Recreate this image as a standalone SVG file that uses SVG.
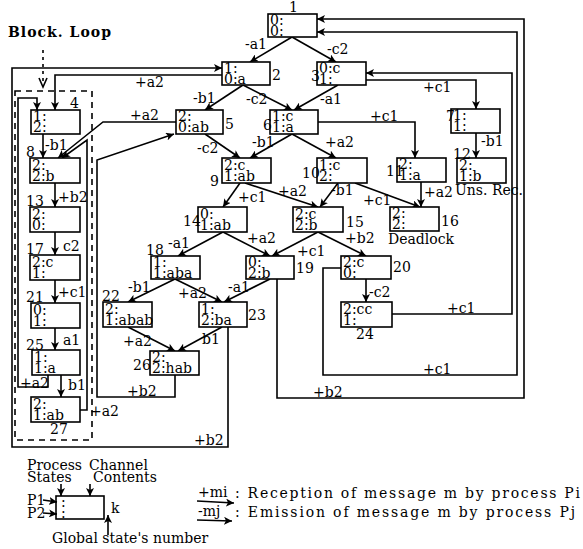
<svg xmlns="http://www.w3.org/2000/svg" width="583" height="549" viewBox="0 0 583 549">
<style>
.box{fill:#fff;stroke:#000;stroke-width:1.6}
.t{font-family:"DejaVu Serif","Liberation Serif",serif;font-size:14px;fill:#000}
.c{fill:none;stroke:#000;stroke-width:1.6}
.a{marker-end:url(#ah)}
</style>
<defs>
<marker id="ah" markerWidth="9" markerHeight="8" refX="8" refY="4" orient="auto" markerUnits="userSpaceOnUse">
<path d="M0,0 L8,4 L0,8 L2,4 Z" fill="#000"/>
</marker>
</defs>
<rect width="583" height="549" fill="#fff"/>

<g id="blockloop">
<text class="t" x="8" y="37" textLength="103" font-weight="bold">Block. Loop</text>
<line x1="43" y1="50" x2="43" y2="84" stroke="#000" stroke-width="1.6" stroke-dasharray="3,4"/>
<polyline points="39,78 43,87 47,78" fill="none" stroke="#000" stroke-width="1.6"/>
<rect x="15" y="91" width="77" height="349" fill="none" stroke="#000" stroke-width="1.6" stroke-dasharray="6,5"/>
</g>

<g id="connectors">
<line class="c a" x1="292" y1="37" x2="250" y2="62"/>
<line class="c a" x1="292" y1="37" x2="336" y2="62"/>
<line class="c a" x1="243" y1="85" x2="205" y2="110"/>
<line class="c a" x1="243" y1="85" x2="292" y2="110"/>
<line class="c a" x1="338" y1="85" x2="294" y2="110"/>
<path class="c a" d="M222,75 H55 V110"/>
<path class="c a" d="M228,327 V447 H12 V68 H222"/>
<line class="c a" x1="43" y1="134" x2="43" y2="158"/>
<path class="c a" d="M176,122 H103 L58,158"/>
<path class="c a" d="M80,410 H87 V140 L62,158"/>
<path class="c a" d="M175,375 V397 H97 V160 L174,134"/>
<line class="c a" x1="205" y1="134" x2="240" y2="158"/>
<line class="c a" x1="292" y1="134" x2="250" y2="158"/>
<line class="c a" x1="292" y1="134" x2="336" y2="158"/>
<path class="c a" d="M318,122 H415 V158"/>
<path class="c a" d="M366,80 H476 V109"/>
<path class="c a" d="M392,314 H512 V73 H366"/>
<path class="c a" d="M341,268 H323 V375 H517 V32 H317"/>
<path class="c a" d="M277,279 V398 H524 V19 H317"/>
<line class="c a" x1="476" y1="133" x2="476" y2="158"/>
<line class="c a" x1="240" y1="183" x2="223" y2="207"/>
<line class="c a" x1="245" y1="183" x2="318" y2="207"/>
<line class="c a" x1="338" y1="183" x2="320" y2="207"/>
<line class="c a" x1="355" y1="183" x2="420" y2="207"/>
<line class="c a" x1="421" y1="182" x2="421" y2="207"/>
<line class="c a" x1="223" y1="232" x2="178" y2="256"/>
<line class="c a" x1="223" y1="232" x2="270" y2="256"/>
<line class="c a" x1="318" y1="232" x2="272" y2="256"/>
<line class="c a" x1="318" y1="232" x2="366" y2="256"/>
<line class="c a" x1="175" y1="279" x2="128" y2="302"/>
<line class="c a" x1="175" y1="279" x2="222" y2="302"/>
<line class="c a" x1="270" y1="279" x2="224" y2="302"/>
<line class="c a" x1="366" y1="279" x2="366" y2="302"/>
<line class="c a" x1="128" y1="327" x2="175" y2="351"/>
<line class="c a" x1="222" y1="327" x2="178" y2="351"/>
<line class="c a" x1="55" y1="183" x2="55" y2="207"/>
<line class="c a" x1="55" y1="232" x2="55" y2="255"/>
<line class="c a" x1="55" y1="280" x2="55" y2="303"/>
<line class="c a" x1="55" y1="328" x2="55" y2="350"/>
<line class="c a" x1="61" y1="375" x2="61" y2="397"/>
<path class="c a" d="M48,375 V387 H18 V98 H37 V110"/>
<text class="t" x="245" y="49">-a1</text>
<text class="t" x="327" y="54">-c2</text>
<text class="t" x="193" y="103">-b1</text>
<text class="t" x="246" y="104">-c2</text>
<text class="t" x="320" y="104">-a1</text>
<text class="t" x="135" y="87">+a2</text>
<text class="t" x="194" y="445">+b2</text>
<text class="t" x="45" y="150">-b1</text>
<text class="t" x="130" y="120">+a2</text>
<text class="t" x="90" y="416">+a2</text>
<text class="t" x="127" y="396">+b2</text>
<text class="t" x="197" y="153">-c2</text>
<text class="t" x="252" y="147">-b1</text>
<text class="t" x="325" y="147">+a2</text>
<text class="t" x="370" y="121">+c1</text>
<text class="t" x="423" y="92">+c1</text>
<text class="t" x="447" y="313">+c1</text>
<text class="t" x="423" y="374">+c1</text>
<text class="t" x="313" y="397">+b2</text>
<text class="t" x="481" y="146">-b1</text>
<text class="t" x="238" y="202">+c1</text>
<text class="t" x="278" y="196">+a2</text>
<text class="t" x="331" y="195">-b1</text>
<text class="t" x="363" y="205">+c1</text>
<text class="t" x="424" y="197">+a2</text>
<text class="t" x="455" y="195">Uns. Rec.</text>
<text class="t" x="168" y="248">-a1</text>
<text class="t" x="247" y="243">+a2</text>
<text class="t" x="297" y="256">+c1</text>
<text class="t" x="345" y="243">+b2</text>
<text class="t" x="128" y="292">-b1</text>
<text class="t" x="178" y="298">+a2</text>
<text class="t" x="228" y="292">-a1</text>
<text class="t" x="369" y="297">-c2</text>
<text class="t" x="123" y="346">+a2</text>
<text class="t" x="202" y="344">b1</text>
<text class="t" x="58" y="202">+b2</text>
<text class="t" x="63" y="251">c2</text>
<text class="t" x="58" y="297">+c1</text>
<text class="t" x="63" y="345">a1</text>
<text class="t" x="68" y="390">b1</text>
<text class="t" x="20" y="388">+a2</text>
</g>

<g id="n1"><rect class="box" x="268" y="14" width="49" height="23"/><text class="t" x="270" y="25">0:</text><text class="t" x="270" y="36">0:</text><text class="t" x="289" y="12">1</text></g>
<g id="n2"><rect class="box" x="222" y="62" width="48" height="23"/><text class="t" x="224" y="73">1:</text><text class="t" x="224" y="84">0:a</text><text class="t" x="272" y="80">2</text></g>
<g id="n3"><rect class="box" x="317" y="62" width="49" height="23"/><text class="t" x="319" y="73">0:c</text><text class="t" x="319" y="84">1:</text><text class="t" x="311" y="81">3</text></g>
<g id="n4"><rect class="box" x="31" y="110" width="49" height="24"/><text class="t" x="33" y="121">1:</text><text class="t" x="33" y="132">2:</text><text class="t" x="70" y="108">4</text></g>
<g id="n5"><rect class="box" x="176" y="110" width="47" height="24"/><text class="t" x="178" y="121">2:</text><text class="t" x="178" y="132">0:ab</text><text class="t" x="225" y="129">5</text></g>
<g id="n6"><rect class="box" x="270" y="110" width="48" height="24"/><text class="t" x="272" y="121">1:c</text><text class="t" x="272" y="132">1:a</text><text class="t" x="263" y="130">6</text></g>
<g id="n7"><rect class="box" x="451" y="109" width="49" height="24"/><text class="t" x="453" y="120">1:</text><text class="t" x="453" y="131">1:</text><text class="t" x="446" y="121">7</text></g>
<g id="n8"><rect class="box" x="30" y="158" width="50" height="25"/><text class="t" x="32" y="170">2:</text><text class="t" x="32" y="181">2:b</text><text class="t" x="26" y="157">8</text></g>
<g id="n9"><rect class="box" x="222" y="158" width="49" height="25"/><text class="t" x="224" y="170">2:c</text><text class="t" x="224" y="181">1:ab</text><text class="t" x="210" y="186">9</text></g>
<g id="n10"><rect class="box" x="317" y="158" width="50" height="25"/><text class="t" x="319" y="170">1:c</text><text class="t" x="319" y="181">2:</text><text class="t" x="302" y="178">10</text></g>
<g id="n11"><rect class="box" x="397" y="158" width="49" height="24"/><text class="t" x="399" y="169">2:</text><text class="t" x="399" y="180">1:a</text><text class="t" x="386" y="176">11</text></g>
<g id="n12"><rect class="box" x="457" y="158" width="49" height="25"/><text class="t" x="459" y="170">2:</text><text class="t" x="459" y="181">1:b</text><text class="t" x="453" y="159">12</text></g>
<g id="n13"><rect class="box" x="30" y="207" width="50" height="25"/><text class="t" x="32" y="219">2:</text><text class="t" x="32" y="230">0:</text><text class="t" x="26" y="206">13</text></g>
<g id="n14"><rect class="box" x="198" y="207" width="49" height="25"/><text class="t" x="200" y="219">0:</text><text class="t" x="200" y="230">1:ab</text><text class="t" x="183" y="226">14</text></g>
<g id="n15"><rect class="box" x="293" y="207" width="50" height="25"/><text class="t" x="295" y="219">2:c</text><text class="t" x="295" y="230">2:b</text><text class="t" x="346" y="227">15</text></g>
<g id="n16"><rect class="box" x="390" y="207" width="49" height="24"/><text class="t" x="392" y="218">2:</text><text class="t" x="392" y="229">2:</text><text class="t" x="441" y="226">16</text><text class="t" x="388" y="244">Deadlock</text></g>
<g id="n17"><rect class="box" x="30" y="255" width="50" height="25"/><text class="t" x="32" y="267">2:c</text><text class="t" x="32" y="278">1:</text><text class="t" x="26" y="254">17</text></g>
<g id="n18"><rect class="box" x="151" y="256" width="49" height="23"/><text class="t" x="153" y="267">1:</text><text class="t" x="153" y="278">1:aba</text><text class="t" x="146" y="255">18</text></g>
<g id="n19"><rect class="box" x="246" y="256" width="48" height="23"/><text class="t" x="248" y="267">0:</text><text class="t" x="248" y="278">2:b</text><text class="t" x="296" y="273">19</text></g>
<g id="n20"><rect class="box" x="341" y="256" width="50" height="23"/><text class="t" x="343" y="267">2:c</text><text class="t" x="343" y="278">0:</text><text class="t" x="393" y="272">20</text></g>
<g id="n21"><rect class="box" x="31" y="303" width="49" height="25"/><text class="t" x="33" y="315">0:</text><text class="t" x="33" y="326">1:</text><text class="t" x="26" y="302">21</text></g>
<g id="n22"><rect class="box" x="103" y="302" width="49" height="25"/><text class="t" x="105" y="314">2:</text><text class="t" x="105" y="325">1:abab</text><text class="t" x="102" y="301">22</text></g>
<g id="n23"><rect class="box" x="199" y="302" width="48" height="25"/><text class="t" x="201" y="314">1:</text><text class="t" x="201" y="325">2:ba</text><text class="t" x="248" y="320">23</text></g>
<g id="n24"><rect class="box" x="341" y="302" width="51" height="25"/><text class="t" x="343" y="314">2:cc</text><text class="t" x="343" y="325">1:</text><text class="t" x="356" y="339">24</text></g>
<g id="n25"><rect class="box" x="32" y="350" width="48" height="25"/><text class="t" x="34" y="362">1:</text><text class="t" x="34" y="373">1:a</text><text class="t" x="26" y="350">25</text></g>
<g id="n26"><rect class="box" x="150" y="351" width="49" height="24"/><text class="t" x="152" y="362">2:</text><text class="t" x="152" y="373">2:hab</text><text class="t" x="133" y="370">26</text></g>
<g id="n27"><rect class="box" x="31" y="397" width="49" height="25"/><text class="t" x="33" y="409">2:</text><text class="t" x="33" y="420">1:ab</text><text class="t" x="50" y="434">27</text></g>

<g id="legend">
<text class="t" x="27" y="470">Process</text>
<text class="t" x="89" y="470">Channel</text>
<text class="t" x="27" y="482">States</text>
<text class="t" x="93" y="482">Contents</text>
<line class="c a" x1="61" y1="484" x2="61" y2="496"/>
<line class="c a" x1="90" y1="484" x2="90" y2="496"/>
<rect class="box" x="56" y="496" width="48" height="23"/>
<text class="t" x="61" y="507">:</text>
<text class="t" x="61" y="518">:</text>
<text class="t" x="27" y="505">P1</text>
<text class="t" x="27" y="518">P2</text>
<line class="c a" x1="43" y1="500" x2="57" y2="502"/>
<line class="c a" x1="43" y1="513" x2="57" y2="514"/>
<text class="t" x="111" y="513">k</text>
<line class="c a" x1="108" y1="535" x2="108" y2="515"/>
<text class="t" x="52" y="543">Global state's number</text>
<text class="t" x="198" y="497">+mi</text>
<line class="c a" x1="197" y1="501" x2="234" y2="503"/>
<text class="t" x="235" y="498" textLength="345">: Reception of message m by process Pi</text>
<text class="t" x="198" y="516">-mj</text>
<line class="c a" x1="197" y1="520" x2="232" y2="521"/>
<text class="t" x="235" y="517" textLength="340">: Emission of message m by process Pj</text>
</g>
</svg>
